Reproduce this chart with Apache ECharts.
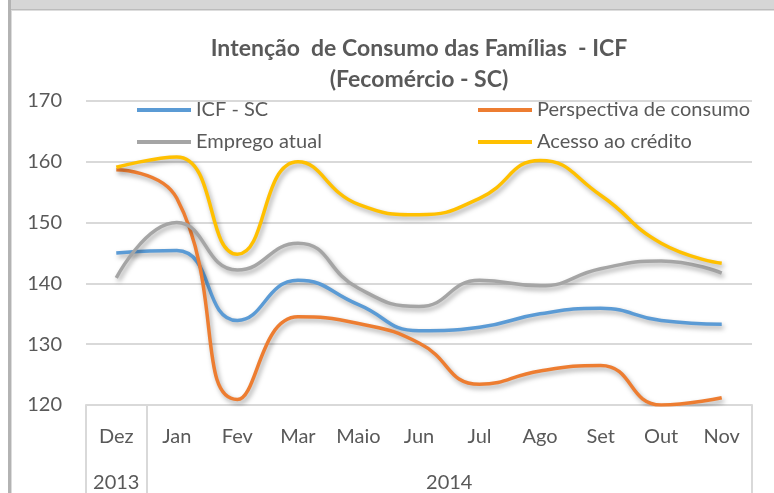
<!DOCTYPE html>
<html>
<head>
<meta charset="utf-8">
<script src="https://cdn.jsdelivr.net/npm/echarts@6/dist/echarts.min.js"></script>
<style>html,body{margin:0;padding:0;background:#fff;}#c{width:774px;height:493px;}</style>
</head>
<body>
<div id="c"></div>
<script>
var months = ['Dez', 'Jan', 'Fev', 'Mar', 'Maio', 'Jun', 'Jul', 'Ago', 'Set', 'Out', 'Nov'];
var years = ['2013', '2014'];
var yearCenters = [0, 5.5];
var icfSC = [145.0, 145.4, 133.9, 140.5, 136.5, 132.2, 132.8, 135.0, 135.9, 133.9, 133.3];
var perspectiva = [158.7, 154.0, 120.9, 134.5, 133.4, 130.2, 123.4, 125.6, 126.5, 120.0, 121.2];
var emprego = [140.9, 150.0, 142.2, 146.6, 139.2, 136.2, 140.5, 139.6, 142.4, 143.7, 141.7];
var acesso = [159.1, 160.8, 144.8, 160.0, 153.0, 151.3, 154.0, 160.2, 154.5, 146.6, 143.3];
var yTicks = [120, 130, 140, 150, 160, 170];

var FONT = 'Lato';
var TXT = '#595959';
var GRIDC = '#d9d9d9';

function mkSeries(name, data, color) {
  return {
    name: name, type: 'line', data: data, smooth: 0.5, symbol: 'none',
    xAxisIndex: 0, yAxisIndex: 0,
    lineStyle: { color: color, width: 3.5, shadowColor: 'rgba(0,0,0,0.35)', shadowBlur: 5, shadowOffsetX: 2, shadowOffsetY: 3 },
    itemStyle: { color: color },
    emphasis: { disabled: true }
  };
}

var chart = echarts.init(document.getElementById('c'), null, { renderer: 'canvas' });
chart.setOption({
  animation: false,
  backgroundColor: '#ffffff',
  textStyle: { fontFamily: FONT },
  title: {
    text: 'Intenção  de Consumo das Famílias  - ICF\n(Fecomércio - SC)',
    left: 419, top: 33, textAlign: 'center',
    padding: 0,
    textStyle: { fontFamily: FONT, fontSize: 23, fontWeight: 'bold', color: TXT, lineHeight: 31 }
  },
  legend: [{
    data: ['ICF - SC', 'Emprego atual'],
    orient: 'vertical', left: 137, top: 99, itemGap: 10, padding: 0,
    icon: 'rect', itemWidth: 54, itemHeight: 4,
    textStyle: { fontFamily: FONT, fontSize: 20, color: TXT, lineHeight: 22 },
    selectedMode: false
  }, {
    data: ['Perspectiva de consumo', 'Acesso ao crédito'],
    orient: 'vertical', left: 478, top: 99, itemGap: 10, padding: 0,
    icon: 'rect', itemWidth: 54, itemHeight: 4,
    textStyle: { fontFamily: FONT, fontSize: 20, color: TXT, lineHeight: 22 },
    selectedMode: false
  }],
  grid: { left: 86, right: 22, top: 101, bottom: 88, containLabel: false },
  xAxis: [{
    type: 'category', data: months, boundaryGap: true, position: 'bottom',
    axisLine: { show: true, lineStyle: { color: GRIDC, width: 2 } },
    axisTick: { show: true, length: 90, interval: function (i) { return i <= 1; }, lineStyle: { color: GRIDC, width: 2 } },
    axisLabel: { interval: 0, margin: 22, fontFamily: FONT, fontSize: 20, color: TXT },
    splitLine: { show: false }
  }, {
    type: 'value', min: -0.5, max: 10.5, position: 'bottom',
    axisLine: { show: false }, axisTick: { show: false }, splitLine: { show: false },
    axisLabel: {
      customValues: yearCenters, margin: 68, fontFamily: FONT, fontSize: 20, color: TXT,
      formatter: function (v) { var k = yearCenters.indexOf(v); return k >= 0 ? years[k] : ''; }
    }
  }],
  yAxis: {
    type: 'value', min: yTicks[0], max: yTicks[yTicks.length - 1], interval: 10,
    axisLine: { show: false }, axisTick: { show: false },
    axisLabel: { margin: 24, fontFamily: FONT, fontSize: 20, color: TXT },
    splitLine: { show: true, lineStyle: { color: GRIDC, width: 2 } }
  },
  series: [
    mkSeries('ICF - SC', icfSC, '#5B9BD5'),
    mkSeries('Perspectiva de consumo', perspectiva, '#ED7D31'),
    mkSeries('Emprego atual', emprego, '#A5A5A5'),
    mkSeries('Acesso ao crédito', acesso, '#FFC000')
  ],
  graphic: [
    { type: 'rect', shape: { x: 11, y: 0, width: 763, height: 9 }, style: { fill: '#d6d6d6' }, silent: true },
    { type: 'rect', shape: { x: 11, y: 9, width: 763, height: 1.5 }, style: { fill: '#bcbcbc' }, silent: true },
    { type: 'rect', shape: { x: 8, y: 0, width: 3, height: 493 }, style: { fill: '#b3b3b3' }, silent: true },
    { type: 'rect', shape: { x: 11, y: 10, width: 1, height: 483 }, style: { fill: '#dcdcdc' }, silent: true }
  ]
});
</script>
</body>
</html>
